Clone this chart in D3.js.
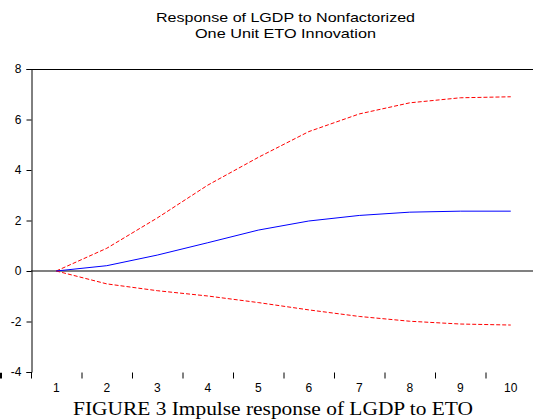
<!DOCTYPE html>
<html>
<head>
<meta charset="utf-8">
<script src="https://cdn.jsdelivr.net/npm/d3@7"></script>
<style>
  body { margin: 0; background: #fff; }
  svg { display: block; }
</style>
</head>
<body>
<div class="chart"></div>
<script>
const periods = [1, 2, 3, 4, 5, 6, 7, 8, 9, 10];
const response = [0, 0.21, 0.63, 1.12, 1.62, 1.98, 2.2, 2.33, 2.37, 2.37];
const upperBand = [0, 0.9, 2.1, 3.4, 4.5, 5.52, 6.22, 6.66, 6.86, 6.9];
const lowerBand = [0, -0.51, -0.78, -0.99, -1.25, -1.54, -1.8, -1.99, -2.1, -2.14];
const yTicks = [-4, -2, 0, 2, 4, 6, 8];
const titleLines = ['Response of LGDP to Nonfactorized', 'One Unit ETO Innovation'];
const caption = 'FIGURE 3 Impulse response of LGDP to ETO';

const config = {
  width: 533,
  height: 419,
  left: 31,
  right: 536,
  top: 69,
  bottom: 372
};

const svg = d3.select('.chart')
  .append('svg')
  .attr('width', config.width)
  .attr('height', config.height);

const x = d3.scaleBand()
  .domain(periods)
  .range([config.left, config.right]);

const y = d3.scaleLinear()
  .domain([-4, 8])
  .range([config.bottom, config.top]);

const px = d => x(d) + x.bandwidth() / 2;

// top frame line
svg.append('line')
  .attr('x1', config.left)
  .attr('x2', config.right)
  .attr('y1', config.top + 0.5)
  .attr('y2', config.top + 0.5)
  .attr('stroke', '#000')
  .attr('stroke-width', 1);

// zero line
svg.append('line')
  .attr('x1', config.left)
  .attr('x2', config.right)
  .attr('y1', y(0))
  .attr('y2', y(0))
  .attr('stroke', '#808080')
  .attr('stroke-width', 2);

// y axis
svg.append('g')
  .attr('class', 'y-axis')
  .attr('transform', `translate(${config.left + 0.5},0)`)
  .call(d3.axisLeft(y).tickValues(yTicks).tickSize(5).tickPadding(5).tickFormat(d => String(d)));

// x axis: ticks at band boundaries, labels at band centres
const bounds = periods.map(d => x(d)).concat([config.right]);
svg.append('g')
  .attr('transform', `translate(0,${config.bottom + 0.5})`)
  .call(d3.axisBottom(d3.scaleIdentity()).tickValues(bounds).tickSize(6).tickFormat(''));

const xLabels = svg.append('g')
  .attr('class', 'x-labels')
  .attr('transform', `translate(0,${config.bottom})`)
  .call(d3.axisBottom(x).tickSize(0).tickPadding(11.5));
xLabels.select('.domain').remove();

svg.selectAll('.tick text')
  .attr('font-family', 'Liberation Sans, Arial, sans-serif')
  .attr('font-size', 12)
  .attr('fill', '#000');
svg.selectAll('.domain, .tick line').attr('stroke', '#000');

const line = d3.line()
  .x((d, i) => px(periods[i]))
  .y(d => y(d));

svg.append('path')
  .datum(upperBand)
  .attr('d', line)
  .attr('fill', 'none')
  .attr('stroke', '#ff0000')
  .attr('stroke-width', 1)
  .attr('stroke-dasharray', '4,2');

svg.append('path')
  .datum(lowerBand)
  .attr('d', line)
  .attr('fill', 'none')
  .attr('stroke', '#ff0000')
  .attr('stroke-width', 1)
  .attr('stroke-dasharray', '4,2');

svg.append('path')
  .datum(response)
  .attr('d', line)
  .attr('fill', 'none')
  .attr('stroke', '#0000ff')
  .attr('stroke-width', 1);

// title (reference text is slightly stretched horizontally)
const titleWidths = [259, 181];
svg.append('g')
  .selectAll('text')
  .data(titleLines)
  .enter()
  .append('text')
  .attr('x', (d, i) => 285.5 - titleWidths[i] / 2)
  .attr('y', (d, i) => 21.5 + i * 16.5)
  .attr('textLength', (d, i) => titleWidths[i])
  .attr('lengthAdjust', 'spacingAndGlyphs')
  .attr('font-family', 'Liberation Sans, Arial, sans-serif')
  .attr('font-size', 13.5)
  .attr('fill', '#000')
  .text(d => d);

// caption
svg.append('text')
  .attr('x', 73)
  .attr('y', 415)
  .attr('textLength', 400)
  .attr('lengthAdjust', 'spacingAndGlyphs')
  .attr('font-family', 'Liberation Serif, Times New Roman, serif')
  .attr('font-size', 19.5)
  .attr('fill', '#000')
  .text(caption);
</script>
</body>
</html>
